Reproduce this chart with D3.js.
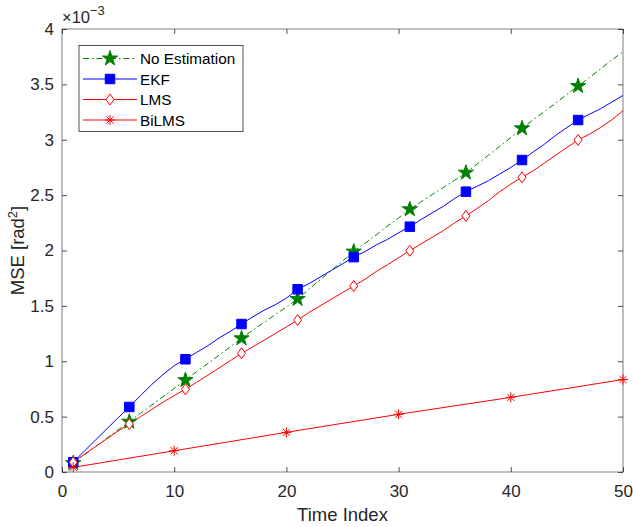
<!DOCTYPE html>
<html>
<head>
<meta charset="utf-8">
<script src="https://cdn.jsdelivr.net/npm/d3@7"></script>
<style>
  html, body { margin: 0; padding: 0; background: #fff; }
  svg { display: block; font-family: "Liberation Sans", Arial, Helvetica, sans-serif; }
</style>
</head>
<body>
<svg id="chart" width="633" height="527"></svg>
<script>
// ---- data (MSE in units of 1e-3 rad^2) ----
const timeIndex = d3.range(1, 51);
const noEstimation = [0.080,0.155,0.230,0.305,0.380,0.454,0.530,0.605,0.680,0.755,
  0.830,0.905,0.980,1.055,1.130,1.207,1.280,1.350,1.420,1.490,
  1.562,1.650,1.735,1.820,1.905,1.990,2.065,2.140,2.220,2.295,
  2.372,2.440,2.505,2.570,2.635,2.703,2.780,2.860,2.940,3.020,
  3.103,3.180,3.255,3.330,3.410,3.485,3.560,3.640,3.720,3.795];
const ekf = [0.088,0.190,0.290,0.390,0.490,0.587,0.690,0.790,0.880,0.960,
  1.018,1.080,1.140,1.210,1.270,1.336,1.400,1.460,1.510,1.570,
  1.650,1.700,1.760,1.820,1.880,1.940,1.990,2.050,2.100,2.160,
  2.215,2.280,2.340,2.400,2.470,2.531,2.580,2.630,2.690,2.750,
  2.817,2.890,2.960,3.040,3.110,3.178,3.230,3.280,3.340,3.400];
const lms = [0.088,0.160,0.230,0.300,0.370,0.433,0.500,0.565,0.630,0.690,
  0.747,0.810,0.875,0.940,1.005,1.072,1.130,1.190,1.250,1.310,
  1.372,1.440,1.500,1.560,1.620,1.680,1.740,1.810,1.870,1.935,
  1.998,2.060,2.120,2.180,2.250,2.312,2.380,2.450,2.530,2.600,
  2.661,2.720,2.790,2.860,2.930,2.998,3.050,3.110,3.180,3.262];
const bilmsIndex = [1, 10, 20, 30, 40, 50];
const bilms = [0.042, 0.192, 0.358, 0.521, 0.674, 0.835];
const xTicks = [0, 10, 20, 30, 40, 50];
const yTicks = [0, 0.5, 1, 1.5, 2, 2.5, 3, 3.5, 4];
const seriesNames = ["No Estimation", "EKF", "LMS", "BiLMS"];

// ---- layout ----
const svg = d3.select("#chart");
const L = 62, R = 623, T = 29, B = 472;
const axisColor = "#262626";
const x = d3.scaleLinear().domain([0, 50]).range([L, R]);
const y = d3.scaleLinear().domain([0, 4]).range([B, T]);

// ---- axes ----
const tickLen = 5;
const gx = svg.append("g").attr("transform", `translate(0,${B})`)
  .call(d3.axisBottom(x).tickValues(xTicks).tickSizeInner(-tickLen).tickSizeOuter(0).tickPadding(13).tickFormat(d3.format("d")));
const gxt = svg.append("g").attr("transform", `translate(0,${T})`)
  .call(d3.axisTop(x).tickValues(xTicks).tickSizeInner(-tickLen).tickSizeOuter(0).tickFormat(""));
const gy = svg.append("g").attr("transform", `translate(${L},0)`)
  .call(d3.axisLeft(y).tickValues(yTicks).tickSizeInner(-tickLen).tickSizeOuter(0).tickPadding(8).tickFormat(d => d3.format("")(d)));
const gyr = svg.append("g").attr("transform", `translate(${R},0)`)
  .call(d3.axisRight(y).tickValues(yTicks).tickSizeInner(-tickLen).tickSizeOuter(0).tickFormat(""));
[gx, gxt, gy, gyr].forEach(g => {
  g.select(".domain").remove();
  g.selectAll(".tick line").attr("stroke", axisColor).attr("stroke-width", 0.8);
  g.selectAll(".tick text").attr("fill", axisColor).style("font-size", "17px").style("font-family", "'Liberation Sans', Arial, sans-serif");
});
// box
svg.append("rect").attr("x", L).attr("y", T).attr("width", R - L).attr("height", B - T)
  .attr("fill", "none").attr("stroke", axisColor).attr("stroke-width", 0.8).attr("stroke-opacity", 0.75);

// exponent label
const ex = svg.append("text").attr("x", L).attr("y", 23).attr("fill", axisColor).style("font-size", "16.5px");
ex.append("tspan").text("×10");
ex.append("tspan").attr("dy", -8).style("font-size", "13px").text("−3");

// axis labels
svg.append("text").attr("x", (L + R) / 2).attr("y", 521).attr("text-anchor", "middle")
  .attr("fill", axisColor).style("font-size", "18.5px").text("Time Index");
const yl = svg.append("text").attr("transform", `translate(24,${(T + B) / 2}) rotate(-90)`)
  .attr("text-anchor", "middle").attr("fill", axisColor).style("font-size", "18.5px");
yl.append("tspan").text("MSE [rad");
yl.append("tspan").attr("dy", -7).style("font-size", "13px").text("2");
yl.append("tspan").attr("dy", 7).text("]");

// ---- marker shapes ----
const starPath = d3.symbol().type(d3.symbolStar).size(72)();
const squarePath = d3.symbol().type(d3.symbolSquare).size(90)();
const diamondPath = "M0,-5.5L4,0L0,5.5L-4,0Z";
const asteriskPath = "M-5,0H5M0,-5V5M-3.6,-3.6L3.6,3.6M-3.6,3.6L3.6,-3.6";

const green = "#008000", blue = "#0000ff", red = "#ff0000";
const line = d3.line().x(d => x(d[0])).y(d => y(d[1]));
const zip = (xs, ys) => xs.map((v, i) => [v, ys[i]]);

const plot = svg.append("g");
const series = [
  { data: zip(timeIndex, noEstimation), color: green, dash: "6,3,1.5,3", marker: starPath, fill: green, every: true },
  { data: zip(timeIndex, ekf), color: blue, dash: null, marker: squarePath, fill: blue, every: true },
  { data: zip(timeIndex, lms), color: red, dash: null, marker: diamondPath, fill: "#fff", every: true },
  { data: zip(bilmsIndex, bilms), color: red, dash: null, marker: asteriskPath, fill: "none", every: false }
];
series.forEach(s => {
  plot.append("path").attr("d", line(s.data)).attr("fill", "none")
    .attr("stroke", s.color).attr("stroke-width", 1).attr("stroke-dasharray", s.dash);
});
series.forEach(s => {
  const pts = s.every ? s.data.filter(d => (d[0] - 1) % 5 === 0) : s.data;
  plot.selectAll(null).data(pts).enter().append("path")
    .attr("transform", d => `translate(${x(d[0])},${y(d[1])})`)
    .attr("d", s.marker).attr("fill", s.fill).attr("stroke", s.color).attr("stroke-width", 1);
});

// ---- legend ----
const lg = svg.append("g");
lg.append("rect").attr("x", 79).attr("y", 45.5).attr("width", 164).attr("height", 86)
  .attr("fill", "#fff").attr("stroke", axisColor).attr("stroke-width", 0.8);
const rowY = [58.5, 79, 99.5, 120];
series.forEach((s, i) => {
  lg.append("line").attr("x1", 83).attr("x2", 137).attr("y1", rowY[i]).attr("y2", rowY[i])
    .attr("stroke", s.color).attr("stroke-width", 1).attr("stroke-dasharray", s.dash);
  lg.append("path").attr("transform", `translate(110,${rowY[i]})`).attr("d", s.marker)
    .attr("fill", s.fill).attr("stroke", s.color).attr("stroke-width", 1);
  lg.append("text").attr("x", 140).attr("y", rowY[i] + 5.5).attr("fill", "#000")
    .style("font-size", "15.3px").text(seriesNames[i]);
});
</script>
</body>
</html>
